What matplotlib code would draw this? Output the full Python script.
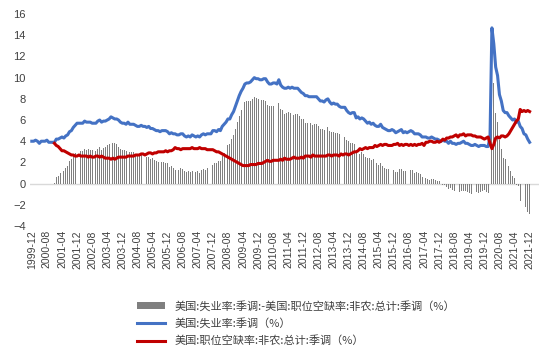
import numpy as np
import pandas as pd
import matplotlib
matplotlib.use("Agg")
import matplotlib.pyplot as plt

plt.rcParams['font.family'] = ['Noto Sans CJK SC', 'DejaVu Sans']

# 月份：1999-12 至 2021-12
months = pd.period_range("1999-12", "2021-12", freq="M").strftime("%Y-%m").tolist()

# 美国失业率（季调，%），1999-12 起
unemp = [
    4.0,
    4.0, 4.1, 4.0, 3.8, 4.0, 4.0, 4.0, 4.1, 3.9, 3.9, 3.9, 3.9,
    4.2, 4.2, 4.3, 4.4, 4.3, 4.5, 4.6, 4.9, 5.0, 5.3, 5.5, 5.7,
    5.7, 5.7, 5.7, 5.9, 5.8, 5.8, 5.8, 5.7, 5.7, 5.7, 5.9, 6.0,
    5.8, 5.9, 5.9, 6.0, 6.1, 6.3, 6.2, 6.1, 6.1, 6.0, 5.8, 5.7,
    5.7, 5.6, 5.8, 5.6, 5.6, 5.6, 5.5, 5.4, 5.4, 5.5, 5.4, 5.4,
    5.3, 5.4, 5.2, 5.2, 5.1, 5.0, 5.0, 4.9, 5.0, 5.0, 5.0, 4.9,
    4.7, 4.8, 4.7, 4.7, 4.6, 4.6, 4.7, 4.7, 4.5, 4.4, 4.5, 4.4,
    4.6, 4.5, 4.4, 4.5, 4.4, 4.6, 4.7, 4.6, 4.7, 4.7, 4.7, 5.0,
    5.0, 4.9, 5.1, 5.0, 5.4, 5.6, 5.8, 6.1, 6.1, 6.5, 6.8, 7.3,
    7.8, 8.3, 8.7, 9.0, 9.4, 9.5, 9.5, 9.6, 9.8, 10.0, 9.9, 9.9,
    9.8, 9.8, 9.9, 9.9, 9.6, 9.4, 9.4, 9.5, 9.5, 9.4, 9.8, 9.3,
    9.1, 9.0, 9.0, 9.1, 9.0, 9.1, 9.0, 9.0, 9.0, 8.8, 8.6, 8.5,
    8.3, 8.3, 8.2, 8.2, 8.2, 8.2, 8.2, 8.0, 7.8, 7.8, 7.7, 7.9,
    8.0, 7.7, 7.5, 7.6, 7.5, 7.5, 7.3, 7.2, 7.2, 7.2, 6.9, 6.7,
    6.6, 6.7, 6.7, 6.2, 6.3, 6.1, 6.2, 6.1, 5.9, 5.7, 5.8, 5.6,
    5.7, 5.5, 5.4, 5.4, 5.6, 5.3, 5.2, 5.1, 5.0, 5.0, 5.1, 5.0,
    4.8, 4.9, 5.0, 5.1, 4.8, 4.9, 4.8, 4.9, 5.0, 4.9, 4.7, 4.7,
    4.7, 4.6, 4.4, 4.4, 4.4, 4.3, 4.3, 4.4, 4.3, 4.2, 4.2, 4.1,
    4.0, 4.1, 4.0, 4.0, 3.8, 4.0, 3.8, 3.8, 3.7, 3.8, 3.8, 3.9,
    4.0, 3.8, 3.8, 3.7, 3.6, 3.6, 3.7, 3.6, 3.5, 3.6, 3.6, 3.6,
    3.5, 3.5, 4.4, 14.7, 13.2, 11.0, 10.2, 8.4, 7.8, 6.9, 6.7, 6.7,
    6.4, 6.2, 6.0, 6.1, 5.8, 5.9, 5.4, 5.2, 4.7, 4.6, 4.2, 3.9,
]

# 美国职位空缺率（非农，总计，季调，%），2000-12 起
openings = [
    3.8,
    3.6, 3.5, 3.3, 3.1, 3.1, 3.0, 2.9, 2.8, 2.7, 2.7, 2.6, 2.6,
    2.7, 2.6, 2.6, 2.6, 2.6, 2.5, 2.6, 2.5, 2.5, 2.6, 2.6, 2.5,
    2.6, 2.5, 2.4, 2.4, 2.4, 2.3, 2.4, 2.3, 2.4, 2.5, 2.5, 2.5,
    2.5, 2.5, 2.6, 2.6, 2.6, 2.6, 2.7, 2.7, 2.7, 2.8, 2.8, 2.7,
    2.8, 2.9, 2.9, 2.8, 2.9, 2.9, 3.0, 3.0, 3.0, 3.0, 3.1, 3.0,
    3.1, 3.1, 3.2, 3.4, 3.3, 3.3, 3.2, 3.3, 3.3, 3.3, 3.3, 3.3,
    3.4, 3.3, 3.3, 3.3, 3.4, 3.3, 3.3, 3.3, 3.2, 3.2, 3.2, 3.2,
    3.1, 3.0, 3.0, 2.9, 2.8, 2.7, 2.6, 2.5, 2.4, 2.3, 2.2, 2.1,
    2.0, 1.9, 1.8, 1.7, 1.7, 1.7, 1.7, 1.8, 1.8, 1.8, 1.8, 1.9,
    1.9, 1.9, 2.0, 2.1, 2.2, 2.1, 2.1, 2.2, 2.2, 2.2, 2.2, 2.3,
    2.2, 2.4, 2.3, 2.3, 2.3, 2.4, 2.5, 2.4, 2.4, 2.4, 2.5, 2.4,
    2.6, 2.6, 2.6, 2.5, 2.7, 2.6, 2.6, 2.6, 2.6, 2.6, 2.6, 2.6,
    2.7, 2.7, 2.6, 2.7, 2.7, 2.7, 2.6, 2.8, 2.7, 2.8, 2.8, 2.7,
    2.8, 2.9, 3.0, 3.0, 3.1, 3.3, 3.2, 3.3, 3.4, 3.3, 3.4, 3.4,
    3.4, 3.6, 3.5, 3.6, 3.7, 3.6, 3.7, 3.7, 3.6, 3.6, 3.6, 3.7,
    3.7, 3.8, 3.6, 3.7, 3.6, 3.7, 3.7, 3.6, 3.7, 3.6, 3.7, 3.6,
    3.7, 3.7, 3.8, 3.6, 3.9, 3.9, 4.0, 4.0, 3.9, 3.9, 4.0, 3.9,
    4.0, 4.2, 4.1, 4.3, 4.3, 4.4, 4.4, 4.5, 4.6, 4.4, 4.6, 4.6,
    4.7, 4.5, 4.6, 4.6, 4.6, 4.5, 4.5, 4.4, 4.4, 4.4, 4.3, 4.2,
    4.3, 4.4, 3.8, 3.3, 3.7, 4.3, 4.4, 4.3, 4.5, 4.5, 4.4, 4.5,
    4.7, 5.0, 5.3, 5.6, 5.9, 6.1, 7.0, 6.8, 6.9, 6.8, 6.9, 6.8,
]

x = np.arange(len(months))
unemp = np.array(unemp)
open_full = np.full(len(months), np.nan)
open_full[len(months) - len(openings):] = openings
gap = unemp - open_full

fig = plt.figure(figsize=(5.54, 3.61), dpi=100)
ax = fig.add_axes([0.054, 0.374, 0.919, 0.587])

# 柱状：失业率 - 职位空缺率
bars = ax.bar(x, gap, width=0.45, color='#7f7f7f',
              label='美国:失业率:季调:-美国:职位空缺率:非农:总计:季调（%）')
l1, = ax.plot(x, unemp, color='#4472C4', lw=2.2, label='美国:失业率:季调（%）')
l2, = ax.plot(x, open_full, color='#C00000', lw=2.2,
              label='美国:职位空缺率:非农:总计:季调（%）')

ax.set_xlim(-1, 269)
ax.set_ylim(-4, 16)
ax.set_yticks(range(-4, 17, 2))
ax.set_xticks(x[::8])
ax.set_xticklabels(months[::8], rotation=90, fontsize=7.5, color='#404040',
                   family=['Liberation Sans', 'DejaVu Sans'])
for lab in ax.get_yticklabels():
    lab.set_fontsize(8)
    lab.set_color('#404040')
    lab.set_family(['Liberation Sans', 'DejaVu Sans'])
ax.tick_params(length=0, pad=3)

for s in ax.spines.values():
    s.set_visible(False)
ax.axhline(0, color='#d9d9d9', lw=1, zorder=0.5)

fig.legend(handles=[bars, l1, l2], loc='upper left',
           bbox_to_anchor=(0.24, 0.18), frameon=False,
           fontsize=8, handlelength=2.5, handleheight=0.6,
           labelspacing=0.6, borderaxespad=0, labelcolor='#404040')

plt.savefig("out.png", dpi=100)
